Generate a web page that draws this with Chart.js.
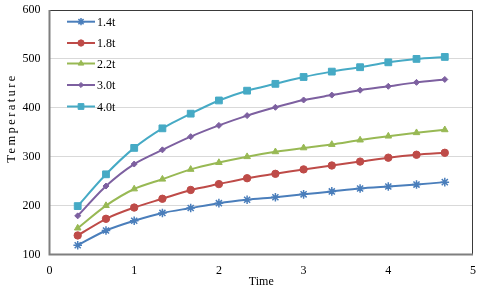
<!DOCTYPE html>
<html><head><meta charset="utf-8">
<script src="https://cdn.jsdelivr.net/npm/chart.js@4/dist/chart.umd.min.js"></script>
<style>html,body{margin:0;padding:0;background:#fff;}#wrap{width:480px;height:290px;}</style>
</head><body><div id="wrap"><canvas id="c" width="480" height="290"></canvas></div>
<script>
const times = [0.333,0.667,1,1.333,1.667,2,2.333,2.667,3,3.333,3.667,4,4.333,4.667];
const seriesLabels = ['1.4t','1.8t','2.2t','3.0t','4.0t'];
const s14 = [119,149,169,185,195,205,212,217,223,229,235,239,243,248];
const s18 = [139,173,196,214,232,244,256,265,274,282,290,298,304,308];
const s22 = [154,200,234,254,274,288,300,310,318,325,334,342,349,355];
const s30 = [179,240,285,314,341,364,384,401,416,426,436,444,452,458];
const s40 = [199,264,318,358,388,415,435,449,463,474,483,493,500,504];
const yTicks = [100,200,300,400,500,600];
const xTicks = [0,1,2,3,4,5];
const xTitle = 'Time';
const yTitle = 'Temperature';

const colors = ['#4a7ebb','#be4b48','#98b954','#7d60a0','#46aac5'];
const styles = ['star','circle','triangle','rectRot','rect'];
const radii = [4.3,3.7,3.8,3.0,4.8];
const allSeries = [s14,s18,s22,s30,s40];

const datasets = allSeries.map((arr,i)=>({
  label: seriesLabels[i],
  data: arr.map((v,j)=>({x: times[j], y: v})),
  borderColor: colors[i],
  backgroundColor: colors[i],
  borderWidth: 2,
  pointStyle: styles[i],
  pointRadius: radii[i],
  pointBorderWidth: styles[i]==='star'?1.5:1,
  pointBorderColor: colors[i],
  pointBackgroundColor: colors[i],
  tension: 0.25
}));

const fam = '"Liberation Serif", "Times New Roman", serif';
const frame = {
  id: 'frame',
  afterDatasetsDraw(chart){
    const {ctx, chartArea:a} = chart;
    ctx.save();
    ctx.strokeStyle = '#3a3a3a'; ctx.lineWidth = 1;
    ctx.beginPath();
    ctx.moveTo(a.left, a.top+0.5); ctx.lineTo(a.right-0.5, a.top+0.5); ctx.lineTo(a.right-0.5, a.bottom);
    ctx.stroke();
    ctx.strokeStyle = '#7f7f7f'; ctx.lineWidth = 2;
    ctx.beginPath();
    ctx.moveTo(a.left, a.top); ctx.lineTo(a.left, a.bottom); ctx.lineTo(a.right, a.bottom);
    ctx.stroke();
    // legend
    const x0 = 67, x1 = 95, tx = 97;
    const ys = [21.7, 43, 63.5, 85, 106.5];
    ctx.font = '12px ' + fam;
    ctx.textBaseline = 'middle';
    ctx.textAlign = 'left';
    chart.data.datasets.forEach((d,i)=>{
      const y = ys[i];
      ctx.strokeStyle = d.borderColor; ctx.lineWidth = 2;
      ctx.beginPath(); ctx.moveTo(x0,y); ctx.lineTo(x1,y); ctx.stroke();
      ctx.fillStyle = d.pointBackgroundColor; ctx.strokeStyle = d.pointBorderColor;
      ctx.lineWidth = d.pointBorderWidth;
      Chart.helpers.drawPoint(ctx, {pointStyle: d.pointStyle, radius: d.pointRadius*0.85, rotation: 0, borderWidth: d.pointBorderWidth}, (x0+x1)/2, y);
      ctx.fillStyle = '#000';
      ctx.fillText(d.label, tx, y+1);
    });
    // y title (stretched look)
    ctx.translate(12, 118);
    ctx.rotate(-Math.PI/2);
    ctx.font = '12.5px ' + fam;
    if ('letterSpacing' in ctx) ctx.letterSpacing = '2.4px';
    ctx.textAlign = 'center';
    ctx.fillStyle = '#000';
    ctx.fillText(yTitle, 0, 0);
    ctx.restore();
  }
};

const font = {family: fam, size: 12};
new Chart(document.getElementById('c'), {
  type: 'line',
  data: {datasets},
  options: {
    responsive: false,
    animation: false,
    devicePixelRatio: 1,
    layout: {padding: {top: 10, right: 7, left: 0, bottom: 0}},
    plugins: {legend: {display: false}, tooltip: {enabled: false}},
    scales: {
      x: {
        type: 'linear', min: 0, max: 5,
        afterBuildTicks: s => { s.ticks = xTicks.map(v=>({value:v})); },
        afterFit: s => { s.height = 35.5; s.paddingLeft = 0; s.paddingRight = 0; },
        grid: {display: false, drawTicks: false},
        border: {display: false},
        ticks: {font, color: '#000', padding: 9, maxRotation: 0},
        title: {display: true, text: xTitle, font, color: '#000', padding: {top: 0, bottom: 1}}
      },
      y: {
        min: 100, max: 600,
        afterBuildTicks: s => { s.ticks = yTicks.map(v=>({value:v})); },
        afterFit: s => { s.width = 49.5; s.paddingTop = 0; s.paddingBottom = 0; },
        grid: {color: '#d9d9d9', lineWidth: 1, drawTicks: false},
        border: {display: false},
        ticks: {font, color: '#000', padding: 9}
      }
    }
  },
  plugins: [frame]
});
</script>
</body></html>
